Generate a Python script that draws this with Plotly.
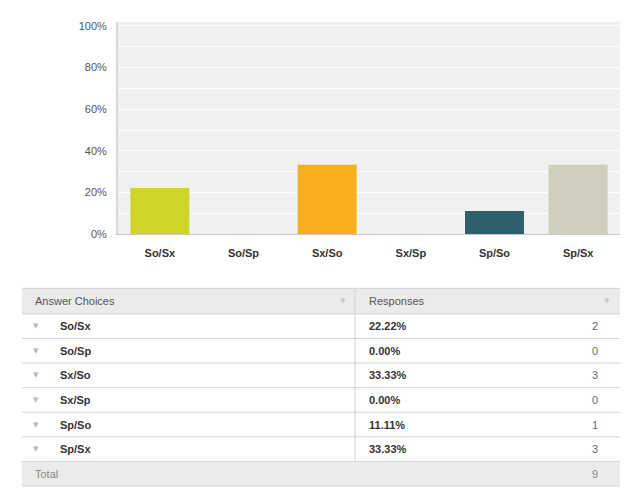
import plotly.graph_objects as go

categories = ["So/Sx", "So/Sp", "Sx/So", "Sx/Sp", "Sp/So", "Sp/Sx"]
percent_values = [22.22, 0.0, 33.33, 0.0, 11.11, 33.33]
response_counts = [2, 0, 3, 0, 1, 3]
bar_colors = ["#cfd42b", "#cfd42b", "#f7ae1f", "#f7ae1f", "#2e606b", "#d0cebf"]
y_tick_values = [0, 20, 40, 60, 80, 100]
y_tick_labels = ["0%", "20%", "40%", "60%", "80%", "100%"]
header_labels = ["Answer Choices", "Responses"]
total_label = "Total"

OFF = 8  # page body margin
W, H = 637 - 2 * OFF, 501 - 2 * OFF
FONT = "Liberation Sans, Arial, Helvetica, sans-serif"


def px(x):
    return (x - OFF) / W


def py(y):
    return 1 - (y - OFF) / H


fig = go.Figure()
fig.add_trace(go.Bar(
    x=categories,
    y=percent_values,
    marker=dict(color=bar_colors, line=dict(width=0)),
    hoverinfo="skip",
))

shapes = []
annotations = []

tx0, tx1, tdiv = 22, 620, 355
header_top, header_bot = 291, 317
row_h = 25
line_col = "#d4d4d4"
bg_col = "#ebebeb"

shapes.append(dict(type="rect", xref="paper", yref="paper", x0=px(tx0), x1=px(tx1),
                   y0=py(header_bot), y1=py(header_top), fillcolor=bg_col, line=dict(width=0), layer="below"))
total_top = header_bot + row_h * len(categories)
total_bot = total_top + row_h
shapes.append(dict(type="rect", xref="paper", yref="paper", x0=px(tx0), x1=px(tx1),
                   y0=py(total_bot), y1=py(total_top), fillcolor=bg_col, line=dict(width=0), layer="below"))

ys = [header_top, header_bot] + [header_bot + row_h * (i + 1) for i in range(len(categories))] + [total_bot]
for yy in ys:
    shapes.append(dict(type="line", xref="paper", yref="paper", x0=px(tx0), x1=px(tx1),
                       y0=py(yy), y1=py(yy), line=dict(color=line_col, width=1)))
shapes.append(dict(type="line", xref="paper", yref="paper", x0=px(tdiv), x1=px(tdiv),
                   y0=py(header_top), y1=py(total_top), line=dict(color=line_col, width=1)))

arrow = "▼"
arrow_font_rows = dict(family="DejaVu Sans", size=7, color="#b8b8b8")
arrow_font_head = dict(family="DejaVu Sans", size=7, color="#c8c8c8")

hy = (header_top + header_bot) / 2
annotations.append(dict(x=px(33), y=py(hy), xref="paper", yref="paper", text=header_labels[0],
                        showarrow=False, xanchor="left", yanchor="middle",
                        font=dict(family=FONT, size=11, color="#555555")))
annotations.append(dict(x=px(367), y=py(hy), xref="paper", yref="paper", text=header_labels[1],
                        showarrow=False, xanchor="left", yanchor="middle",
                        font=dict(family=FONT, size=11, color="#555555")))
for ax in (343, 607):
    annotations.append(dict(x=px(ax), y=py(hy), xref="paper", yref="paper", text=arrow,
                            showarrow=False, xanchor="center", yanchor="middle", font=arrow_font_head))

for i, (cat, pct, cnt) in enumerate(zip(categories, percent_values, response_counts)):
    cy = header_bot + row_h * i + row_h / 2
    annotations.append(dict(x=px(36), y=py(cy), xref="paper", yref="paper", text=arrow,
                            showarrow=False, xanchor="center", yanchor="middle", font=arrow_font_rows))
    annotations.append(dict(x=px(58), y=py(cy), xref="paper", yref="paper", text="<b>%s</b>" % cat,
                            showarrow=False, xanchor="left", yanchor="middle",
                            font=dict(family=FONT, size=11, color="#333333")))
    annotations.append(dict(x=px(367), y=py(cy), xref="paper", yref="paper", text="<b>%.2f%%</b>" % pct,
                            showarrow=False, xanchor="left", yanchor="middle",
                            font=dict(family=FONT, size=11, color="#333333")))
    annotations.append(dict(x=px(600), y=py(cy), xref="paper", yref="paper", text=str(cnt),
                            showarrow=False, xanchor="right", yanchor="middle",
                            font=dict(family=FONT, size=11, color="#666666")))

ty = (total_top + total_bot) / 2
annotations.append(dict(x=px(33), y=py(ty), xref="paper", yref="paper", text=total_label,
                        showarrow=False, xanchor="left", yanchor="middle",
                        font=dict(family=FONT, size=11, color="#888888")))
annotations.append(dict(x=px(600), y=py(ty), xref="paper", yref="paper", text=str(sum(response_counts)),
                        showarrow=False, xanchor="right", yanchor="middle",
                        font=dict(family=FONT, size=11, color="#888888")))

fig.update_layout(
    width=W, height=H,
    margin=dict(l=0, r=0, t=0, b=0),
    paper_bgcolor="white",
    plot_bgcolor="#f0f0f0",
    showlegend=False,
    bargap=0.295,
    shapes=shapes,
    annotations=annotations,
    font=dict(family=FONT),
    xaxis=dict(
        domain=[px(118), px(620)],
        anchor="y",
        showgrid=False,
        showline=True, linecolor="#c8c8c8", linewidth=1,
        tickfont=dict(family=FONT, size=11, color="#333333"),
        tickprefix="<b>", ticksuffix="</b>",
        ticks="outside", ticklen=9, tickcolor="rgba(0,0,0,0)",
        fixedrange=True,
    ),
    yaxis=dict(
        domain=[py(236), py(20)],
        range=[0, 101.9],
        tickvals=y_tick_values,
        ticktext=y_tick_labels,
        tickfont=dict(family=FONT, size=11, color="#555555"),
        showgrid=True, gridcolor="white", gridwidth=1,
        minor=dict(dtick=10, showgrid=True, gridcolor="white", gridwidth=1),
        zeroline=False,
        showline=True, linecolor="#d8d8d8", linewidth=2,
        ticks="outside", ticklen=7, tickcolor="rgba(0,0,0,0)",
        fixedrange=True,
    ),
)

fig.write_html("out.html", config={"displayModeBar": False})
